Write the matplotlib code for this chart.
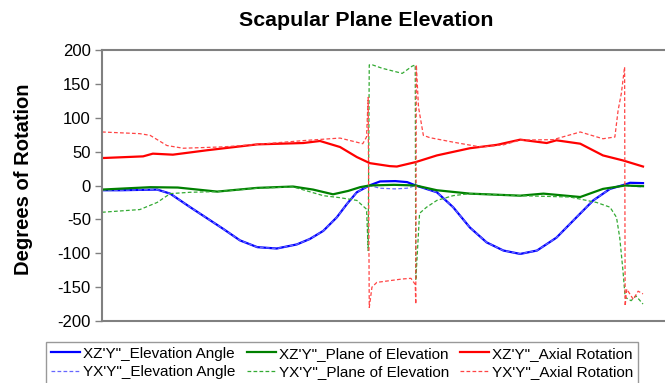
import numpy as np
import matplotlib
matplotlib.use("Agg")
import matplotlib.pyplot as plt

plt.rcParams['font.family'] = ['Liberation Sans', 'DejaVu Sans']
plt.rcParams['axes.unicode_minus'] = False

# --- data (x = % of trial, y = degrees) ---
t_elev = [0, 3.3, 10.2, 12.6, 16.3, 22.4, 25.5, 28.7, 32.3, 36.0, 38.4, 40.9, 43.4, 45.3,
          47.1, 49.4, 51.4, 54.2, 56.4, 58.0, 61.9, 64.9, 68.0, 71.1, 74.2, 77.3, 80.4,
          84.0, 87.7, 90.8, 93.9, 96.7, 97.6, 100]
xz_elev = [-7, -7, -6, -12, -32, -64, -81, -91, -93, -87, -79, -67, -47, -27,
           -10, 0, 6, 6.5, 5, 0, -10, -32, -62, -84, -96, -101, -96,
           -77, -47, -22, -5, 1.5, 4, 3.5]
yx_elev = [-7, -7, -6, -12, -32, -64, -81, -91, -93, -87, -79, -67, -47, -27,
           -10, 0, -4, -5, -4, 0, -10, -32, -62, -84, -96, -101, -96,
           -77, -47, -22, -5, 1.5, -1, -2]

t_poe_xz = [0, 8.9, 14, 21.3, 28.7, 35.3, 39, 42.7, 45.5, 47.7, 49.4, 54, 58, 61.9,
            68, 77.3, 81.6, 88.4, 92.6, 96.7, 100]
xz_poe = [-6, -2.5, -3, -9, -3.5, -1.5, -6, -13, -8, -2.5, 0, 1, 0, -7,
          -12, -15, -12, -17, -5, 0, -1]

t_poe_yx = [0, 7, 10.2, 12.6, 16.3, 21.3, 28.7, 35.3, 40.9, 44, 47.1, 48.9, 49.2, 49.4,
            50.0, 51.8, 55.5, 57.3, 57.9, 58.0, 58.7, 60.0, 61.9, 64.9, 68.0, 77.3,
            86.5, 91.4, 93.9, 95.1, 95.7, 96.3, 96.7, 97.8, 98.7, 100]
yx_poe = [-39.5, -35.5, -25, -12, -10, -9, -4, -2, -15, -18, -22, -35, -96, 178,
          178, 173, 165.5, 176, 178, -140, -41, -32, -22, -15, -12, -15,
          -17, -25, -32, -47, -77, -126, -165, -170, -163, -175]

t_axial_xz = [0, 7.6, 9.4, 13.1, 19.4, 28.7, 37.2, 40.3, 44, 47.1, 49.5, 53.2, 54.5, 58,
              61.9, 68, 73, 77.3, 82.2, 84, 88.4, 92.6, 96.3, 100]
xz_axial = [40.5, 43, 47, 45.5, 52, 60.7, 62.7, 65.7, 56.8, 42, 33, 28.6, 28, 34.6,
            44.4, 55, 60, 67.7, 62.7, 66.7, 61.7, 44.4, 37, 28]

t_axial_yx = [0, 7, 8.9, 12, 15, 22.4, 28.7, 37.9, 44, 48.2, 48.9, 49.2, 49.4, 49.9,
              50.8, 55.5, 57.1, 57.9, 58.0, 58.1, 58.5, 59.4, 60.6, 64.9, 70, 74.2,
              77.3, 83.4, 88.4, 92.6, 94.8, 95.4, 96.0, 96.6, 96.7, 97.0, 98.2, 99.1, 100]
yx_axial = [79, 76.5, 74, 59, 55, 57, 60.7, 66.7, 70, 61.7, 71.6, 130, -180, -150,
            -143, -138, -137, -146, -175, 178, 116, 74, 70.6, 64, 56.8, 60,
            67, 67.7, 79, 69, 71.6, 111, 136, 175, -178, -153, -168, -156, -160]

y_ticks = [200, 150, 100, 50, 0, -50, -100, -150, -200]

fig = plt.figure(figsize=(6.65, 3.83), dpi=100)
ax = fig.add_axes([102 / 665, (383 - 321) / 383, 1 - 102 / 665, (321 - 50) / 383])

solid = dict(linewidth=1.6)
dash = dict(linewidth=0.9, linestyle=(0, (3, 1.8)))

ax.plot(t_elev, xz_elev, color='#0000ff', label='XZ\'Y"_Elevation Angle', **solid)
ax.plot(t_elev, yx_elev, color='#6666ff', label='YX\'Y"_Elevation Angle', **dash)
ax.plot(t_poe_xz, xz_poe, color='#008000', label='XZ\'Y"_Plane of Elevation', **solid)
ax.plot(t_poe_yx, yx_poe, color='#33aa33', label='YX\'Y"_Plane of Elevation', **dash)
ax.plot(t_axial_xz, xz_axial, color='#ff0000', label='XZ\'Y"_Axial Rotation', **solid)
ax.plot(t_axial_yx, yx_axial, color='#ff4444', label='YX\'Y"_Axial Rotation', **dash)

ax.set_xlim(0, 100 * 563 / 541)
ax.set_ylim(-200, 200)
ax.set_yticks(y_ticks)
ax.set_xticks([])
ax.tick_params(axis='y', direction='out', length=5, width=1, color='#808080',
               labelsize=12, pad=3)

for side in ['left', 'top', 'bottom']:
    ax.spines[side].set_color('#808080')
    ax.spines[side].set_linewidth(1.5)
ax.spines['right'].set_visible(False)

fig.text(366 / 665, 1 - 21 / 383, 'Scapular Plane Elevation', ha='center', va='center',
         fontsize=15.4, fontweight='bold')
fig.text(24 / 665, 1 - 179 / 383, 'Degrees of Rotation', ha='center', va='center',
         rotation=90, fontsize=14.5, fontweight='bold')

leg = fig.legend(loc='upper left', bbox_to_anchor=(46 / 665, 1 - 342 / 383), ncol=3,
                 fontsize=11, frameon=True, fancybox=False, edgecolor='#808080',
                 handlelength=1.9, handletextpad=0.2, columnspacing=0.75,
                 borderpad=0.3, labelspacing=0.3, borderaxespad=0)
leg.get_frame().set_linewidth(1.0)

fig.savefig('out.png', dpi=100)
